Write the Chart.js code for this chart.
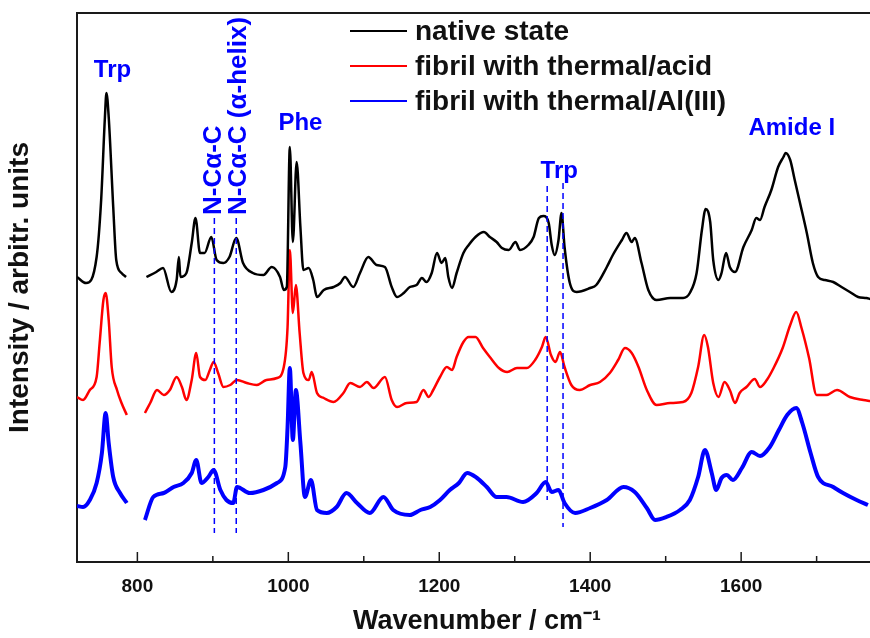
<!DOCTYPE html>
<html>
<head>
<meta charset="utf-8">
<script src="https://cdn.jsdelivr.net/npm/chart.js@4/dist/chart.umd.min.js"></script>
<style>
html,body{margin:0;padding:0;background:#fff;overflow:hidden;width:870px;height:638px;}
canvas{display:block;}
</style>
</head>
<body>
<canvas id="c" width="880" height="638"></canvas>
<script>
// ---- data (wavenumber in cm-1, intensity in arbitrary units) ----
const nativeWn = [720,732,746,752,757,759,762,768,772,779,785,798,
812,825,834,845,852,855,857,865,872,877,883,889,898,905,914,922,931,940,953,967,978,989,994,998,1002,1006,1011,1016,1020,1027,1033,1038,1047,1060,1069,1075,1086,1095,1106,1117,1128,1137,1144,1153,1161,1170,1177,1183,1190,1197,1203,1208,1212,1217,1223,1232,1239,1248,1259,1267,1276,1283,1292,1301,1307,1318,1325,1332,1338,1345,1349,1353,1358,1362,1366,1373,1382,1400,1408,1422,1430,1442,1448,1455,1459,1468,1477,1488,1506,1523,1532,1541,1548,1553,1559,1563,1570,1574,1580,1585,1592,1603,1614,1620,1625,1631,1640,1649,1656,1659,1665,1671,1678,1687,1695,1702,1711,1722,1733,1744,1755,1766,1771];
const nativeI = [285,279,305,362,445,469,445,355,302,289,285,null,
285,290,294,270,282,305,285,289,319,344,309,309,325,302,299,305,324,299,289,287,295,285,272,275,415,320,400,335,292,294,282,265,272,275,279,285,275,289,305,297,295,275,265,269,275,277,284,280,289,309,299,304,285,274,289,309,317,325,330,325,320,314,312,320,312,317,325,344,346,339,317,307,322,349,315,279,270,274,277,295,307,322,329,320,324,299,272,262,264,264,269,289,332,353,340,302,282,289,309,295,290,315,332,344,342,355,372,395,405,409,402,382,359,329,299,285,282,280,275,270,265,264,263];

const acidWn = [720,728,737,746,750,755,758,762,766,773,779,786,798,
810,817,826,835,843,852,859,865,872,878,883,890,896,901,907,914,923,932,945,958,971,985,994,999,1002,1006,1010,1015,1020,1027,1031,1038,1047,1060,1073,1082,1095,1104,1113,1128,1137,1144,1157,1170,1179,1186,1192,1201,1210,1217,1223,1232,1239,1248,1258,1267,1279,1290,1303,1316,1327,1336,1341,1348,1354,1360,1366,1375,1386,1400,1413,1426,1437,1446,1455,1464,1475,1488,1506,1523,1534,1543,1551,1556,1563,1570,1578,1585,1592,1598,1607,1618,1625,1634,1643,1655,1665,1673,1680,1690,1700,1713,1727,1744,1762,1771];
const acidI = [165,162,172,185,219,262,269,242,195,172,159,147,null,
149,159,172,167,172,185,175,162,182,209,185,182,192,200,189,175,177,182,179,177,182,184,195,235,312,249,277,229,189,182,190,169,164,160,169,179,175,180,174,185,162,155,159,160,172,165,172,185,195,192,205,220,225,225,214,205,194,190,194,194,202,215,225,207,200,210,195,177,172,177,180,189,202,214,209,195,172,157,159,160,169,195,227,215,179,165,180,172,159,169,175,183,175,182,194,214,237,250,234,204,167,167,172,165,162,161];

const alWn = [720,728,737,746,753,758,762,768,777,786,798,
810,821,835,848,861,872,878,885,894,901,910,918,927,932,949,967,985,996,999,1002,1006,1010,1016,1022,1030,1038,1051,1064,1077,1091,1108,1126,1139,1161,1175,1188,1201,1214,1226,1237,1250,1263,1276,1289,1311,1329,1341,1349,1358,1366,1380,1400,1422,1444,1459,1475,1486,1501,1519,1532,1543,1552,1561,1567,1574,1581,1589,1601,1614,1625,1638,1650,1661,1673,1681,1692,1702,1722,1735,1753,1768];
const alI = [56,55,62,79,109,149,119,85,69,59,null,
42,65,69,75,79,89,102,79,85,92,72,62,59,75,69,72,79,95,135,194,122,172,119,65,82,52,49,55,69,59,49,65,52,47,52,55,62,72,79,89,84,75,65,65,60,69,80,70,72,59,49,54,62,75,70,54,42,45,52,62,85,112,89,72,84,87,82,94,110,106,115,132,147,154,139,109,85,75,69,62,57];

const seriesNames = ['native state','fibril with thermal/acid','fibril with thermal/Al(III)'];
const seriesColors = ['#000000','#ff0000','#0000ff'];
const xTickValues = [800,1000,1200,1400,1600];
const xMinorTicks = [900,1100,1300,1500,1700];

// annotation labels (wavenumber, intensity)
const peakLabels = [
  {text:'Trp', wn:767, i:492},
  {text:'Phe', wn:1016, i:439},
  {text:'Trp', wn:1359, i:391},
  {text:'Amide I', wn:1667, i:434}
];
const rotatedLabels = [
  {text:'N-C\u03b1-C', wn:901, i:347},
  {text:'N-C\u03b1-C (\u03b1-helix)', wn:934, i:347}
];
const dashedMarks = [
  {wn:902, top:344, bottom:29},
  {wn:931, top:344, bottom:29},
  {wn:1343, top:376, bottom:62},
  {wn:1364, top:379, bottom:35}
];

const FONT = "'Liberation Sans', Arial, Helvetica, sans-serif";

function toPts(wn, vals){ return wn.map((w,k)=>({x:w, y:vals[k]})); }

const extras = {
  id:'extras',
  afterDatasetsDraw(chart){
    const {ctx, chartArea:ca, scales:{x,y}} = chart;
    ctx.save();
    // top/right frame
    ctx.strokeStyle = '#1a1a1a'; ctx.lineWidth = 2;
    ctx.beginPath(); ctx.moveTo(ca.left, ca.top); ctx.lineTo(ca.right, ca.top); ctx.lineTo(ca.right, ca.bottom); ctx.stroke();
    // inward tick marks
    ctx.lineWidth = 1.5;
    xTickValues.forEach(v=>{ const px=x.getPixelForValue(v); ctx.beginPath(); ctx.moveTo(px, ca.bottom); ctx.lineTo(px, ca.bottom-10); ctx.stroke(); });
    xMinorTicks.forEach(v=>{ const px=x.getPixelForValue(v); ctx.beginPath(); ctx.moveTo(px, ca.bottom); ctx.lineTo(px, ca.bottom-6); ctx.stroke(); });
    // dashed marker lines
    ctx.strokeStyle = '#0000ff'; ctx.lineWidth = 1.5; ctx.setLineDash([6,4]);
    dashedMarks.forEach(d=>{ const px=x.getPixelForValue(d.wn); ctx.beginPath(); ctx.moveTo(px, y.getPixelForValue(d.top)); ctx.lineTo(px, y.getPixelForValue(d.bottom)); ctx.stroke(); });
    ctx.setLineDash([]);
    // peak labels
    ctx.fillStyle = '#0000ff';
    ctx.font = 'bold 24px ' + FONT;
    ctx.textAlign = 'center'; ctx.textBaseline = 'middle';
    peakLabels.forEach(p=>{ ctx.fillText(p.text, x.getPixelForValue(p.wn), y.getPixelForValue(p.i)); });
    // rotated labels
    ctx.font = 'bold 26px ' + FONT;
    ctx.textAlign = 'left';
    rotatedLabels.forEach(p=>{
      ctx.save();
      ctx.translate(x.getPixelForValue(p.wn), y.getPixelForValue(p.i));
      ctx.rotate(-Math.PI/2);
      ctx.fillText(p.text, 0, 0);
      ctx.restore();
    });
    // legend
    ctx.font = 'bold 28px ' + FONT;
    ctx.textAlign = 'left'; ctx.textBaseline = 'middle';
    seriesNames.forEach((n,k)=>{
      const yy = 31 + k*35;
      ctx.strokeStyle = seriesColors[k]; ctx.lineWidth = 2;
      ctx.beginPath(); ctx.moveTo(350, yy); ctx.lineTo(407, yy); ctx.stroke();
      ctx.fillStyle = '#111';
      ctx.fillText(n, 415, yy+1);
    });
    ctx.restore();
  }
};

new Chart(document.getElementById('c'), {
  type:'line',
  data:{
    datasets:[
      {label:seriesNames[0], data:toPts(nativeWn,nativeI), borderColor:seriesColors[0], borderWidth:2.5},
      {label:seriesNames[1], data:toPts(acidWn,acidI), borderColor:seriesColors[1], borderWidth:2.5},
      {label:seriesNames[2], data:toPts(alWn,alI), borderColor:seriesColors[2], borderWidth:4}
    ]
  },
  options:{
    responsive:false, animation:false, devicePixelRatio:1,
    layout:{padding:{top:13,right:3,left:0,bottom:0}},
    plugins:{legend:{display:false}, tooltip:{enabled:false}},
    elements:{point:{radius:0}, line:{cubicInterpolationMode:'monotone', fill:false}},
    spanGaps:false,
    scales:{
      x:{type:'linear', min:720, max:1780,
        afterBuildTicks:s=>{ s.ticks = xTickValues.map(v=>({value:v})); },
        afterFit:s=>{ s.height = 76; },
        grid:{display:false, drawTicks:false},
        border:{display:true, color:'#1a1a1a', width:2},
        ticks:{autoSkip:false, maxRotation:0, padding:13, color:'#111', font:{family:FONT, size:19, weight:'bold'}, callback:v=>String(v)},
        title:{display:true, text:'Wavenumber / cm\u207b\u00b9', color:'#111', font:{family:FONT, size:27, weight:'bold'}, padding:{top:0,bottom:0}}
      },
      y:{type:'linear', min:0, max:549,
        afterFit:s=>{ s.width = 77; },
        grid:{display:false, drawTicks:false},
        border:{display:true, color:'#1a1a1a', width:2},
        ticks:{display:false},
        title:{display:true, text:'Intensity / arbitr. units', color:'#111', font:{family:FONT, size:28, weight:'bold'}, padding:{top:3,bottom:0}}
      }
    }
  },
  plugins:[extras]
});
</script>
</body>
</html>
